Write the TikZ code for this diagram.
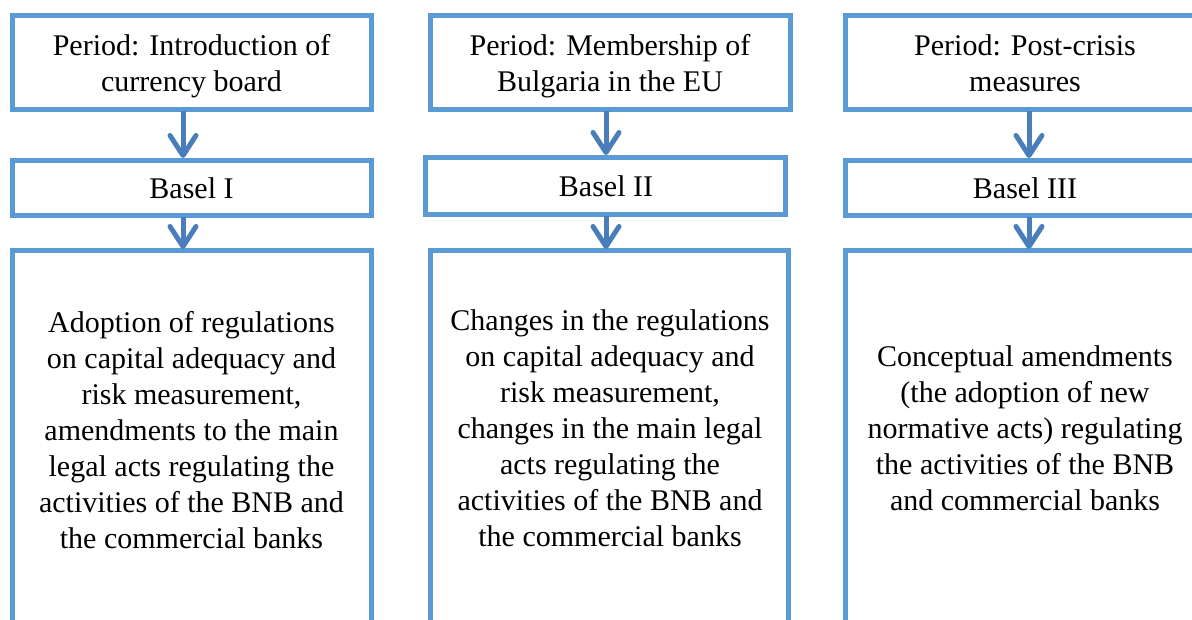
\documentclass[tikz,border=0pt]{standalone}
\usepackage{fontspec}
\setmainfont{Liberation Serif}
\usetikzlibrary{arrows.meta}
\definecolor{boxblue}{HTML}{5B9BD5}
\definecolor{arrowblue}{HTML}{4A7EBB}
\begin{document}
\begin{tikzpicture}[x=0.5pt,y=-0.5pt,
  frame/.style={draw=boxblue,line width=2.5pt,fill=none,inner sep=0pt},
  txt/.style={align=center,font=\fontsize{15pt}{18pt}\selectfont,inner sep=0pt},
  flow/.style={draw=arrowblue,line width=2.5pt,
    -{Straight Barb[length=10pt,width=13pt,line cap=round,line join=round]}}]
\useasboundingbox (0,0) rectangle (1192,620);
\clip (0,0) rectangle (1192,620);

% column 1
\draw[frame] (12,15.5) rectangle (371,109.5);
\draw[frame] (12,160.5) rectangle (371,215.5);
\draw[frame] (12,250.5) rectangle (371,720);
\node[txt] (p1) at (191.5,66) {Period: Introduction of\\currency board};
\node[txt] (b1) at (191.5,188) {Basel I};
\node[txt] (d1) at (191.5,430) {Adoption of regulations\\on capital adequacy and\\risk measurement,\\amendments to the main\\legal acts regulating the\\activities of the BNB and\\the commercial banks};
\coordinate (p1s) at (183,111);
\coordinate (b1t) at (183,158);
\coordinate (b1s) at (183,217);
\coordinate (d1t) at (183,249);
\draw[flow] (p1s) -- (b1t);
\draw[flow] (b1s) -- (d1t);

% column 2
\draw[frame] (430.5,15.5) rectangle (790.5,109.5);
\draw[frame] (425.5,157.5) rectangle (785.5,214.5);
\draw[frame] (430.5,250.5) rectangle (788,720);
\node[txt] (p2) at (610,66) {Period: Membership of\\Bulgaria in the EU};
\node[txt] (b2) at (606,186) {Basel II};
\node[txt] (d2) at (610,428) {Changes in the regulations\\on capital adequacy and\\risk measurement,\\changes in the main legal\\acts regulating the\\activities of the BNB and\\the commercial banks};
\coordinate (p2s) at (606,111);
\coordinate (b2t) at (606,155);
\coordinate (b2s) at (606,216);
\coordinate (d2t) at (606,249);
\draw[flow] (p2s) -- (b2t);
\draw[flow] (b2s) -- (d2t);

% column 3
\draw[frame] (845,15.5) rectangle (1205,109.5);
\draw[frame] (845,160.5) rectangle (1205,215.5);
\draw[frame] (845,250.5) rectangle (1205,720);
\node[txt] (p3) at (1025,63) {Period: Post-crisis\\measures};
\node[txt] (b3) at (1025,188) {Basel III};
\node[txt] (d3) at (1025,428) {Conceptual amendments\\(the adoption of new\\normative acts) regulating\\the activities of the BNB\\and commercial banks};
\coordinate (p3s) at (1029,111);
\coordinate (b3t) at (1029,158);
\coordinate (b3s) at (1029,217);
\coordinate (d3t) at (1029,249);
\draw[flow] (p3s) -- (b3t);
\draw[flow] (b3s) -- (d3t);
\end{tikzpicture}
\end{document}
